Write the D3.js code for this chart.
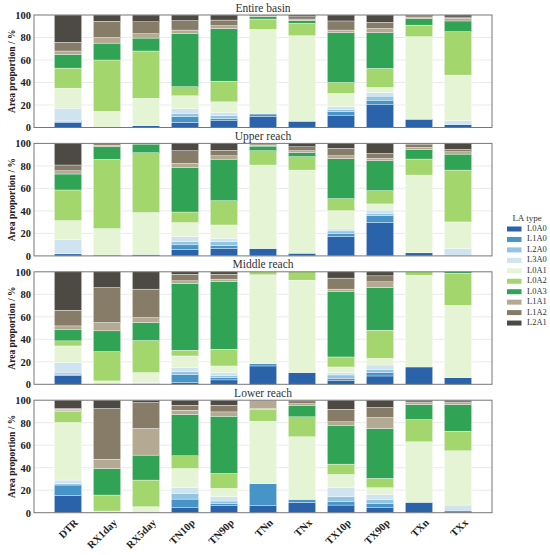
<!DOCTYPE html>
<html><head><meta charset="utf-8">
<script src="https://cdn.jsdelivr.net/npm/d3@7"></script>
<style>body{margin:0;background:#fff}svg{display:block}</style>
</head><body>
<script>
const categories = ["DTR","RX1day","RX5day","TN10p","TN90p","TNn","TNx","TX10p","TX90p","TXn","TXx"];
const laTypes = ["L0A0","L1A0","L2A0","L3A0","L0A1","L0A2","L0A3","L1A1","L1A2","L2A1"];
const panelTitles = ["Entire basin","Upper reach","Middle reach","Lower reach"];
const yTicks = [0,20,40,60,80,100];
const palette = ["#2a63aa","#4694c8","#93c4e1","#cfe3f1","#e5f4d4","#a3d66c","#31a354","#b4a992","#867c68","#4d4a44"];

// rows: LA types (laTypes order), columns: categories
const entireBasin = [
  [4.5, 0.3, 1.5, 4.5, 6, 10, 5.6, 11, 20.2, 7.4, 2.4],
  [1, 0, 0, 5, 1.7, 2, 0, 3, 4.1, 0, 0],
  [1, 0, 0, 3, 2.7, 0, 0, 2.3, 3.6, 0, 0.6],
  [10.7, 0, 0, 4.1, 3, 0, 0, 2.1, 3, 0, 3],
  [17.8, 14.2, 24.5, 11.6, 9.4, 75.2, 76, 11.9, 4.7, 73.3, 40.6],
  [17.8, 45.5, 42, 8, 18.4, 9.2, 11, 9.7, 16.9, 10.3, 38.6],
  [12.2, 15, 11.5, 47.2, 46.8, 2.1, 2.4, 44.3, 31.8, 5.7, 9.5],
  [3, 5, 3.9, 3.2, 2.5, 0.5, 1.4, 2.3, 3.7, 1.5, 2.3],
  [7.7, 14.4, 10.6, 8.4, 5, 0.5, 2.1, 8.1, 5.5, 1.1, 1.2],
  [24.3, 5.6, 6, 5, 4.5, 0.5, 1.5, 5.3, 6.5, 0.7, 1.8]
];
const upperReach = [
  [1.8, 0.8, 1.2, 5.9, 6.8, 6.5, 2.4, 17.2, 29.6, 2.7, 0],
  [0.3, 0, 0, 3.9, 2.4, 0, 0, 2.8, 6.2, 0, 0],
  [0.3, 0, 0, 2.9, 3.5, 0, 0, 2.2, 2.1, 0, 0.5],
  [12.4, 0, 0, 4.5, 3, 0, 0, 1.8, 2.9, 0, 6],
  [16.6, 23.5, 37.3, 12.4, 11.8, 74.3, 73.9, 16.2, 5.4, 69.2, 23.7],
  [27.2, 61.5, 53.2, 9.4, 21.6, 12.7, 11.9, 10.7, 11.8, 14.2, 46.1],
  [14.2, 11.2, 7.7, 39.7, 36.9, 4.1, 3.5, 35.5, 26.6, 8.6, 14.2],
  [2.9, 1.5, 0.2, 3.5, 3, 0.9, 1.8, 2.6, 2.1, 1.7, 2.1],
  [5.1, 1.2, 0.2, 11.3, 4.8, 1, 3.5, 6.6, 4.4, 3, 2.1],
  [19.2, 0.3, 0.2, 6.5, 6.2, 0.5, 3, 4.4, 8.9, 0.6, 5.3]
];
const middleReach = [
  [8, 0, 0.5, 1.5, 3.9, 16.3, 10.4, 3.6, 7.4, 15.4, 5.9],
  [0.9, 0, 0, 7.4, 2, 2.1, 0, 1.7, 3, 0, 0],
  [1.2, 0, 0, 2.4, 2.1, 0, 0, 3, 3, 0, 0],
  [9.2, 0, 1, 3.5, 2.4, 0, 0, 2.1, 3.8, 0, 0],
  [14.8, 3, 8.9, 10.4, 5.9, 78.9, 82.2, 5, 5.9, 81.6, 64.4],
  [4.5, 26.1, 28.5, 5.1, 14.9, 2.7, 7.4, 8.9, 25, 3, 28.5],
  [9.8, 18.4, 16, 59.3, 60.2, 0, 0, 57.9, 37.9, 0, 1.2],
  [3.5, 7.4, 4.4, 2.4, 2.1, 0, 0, 2.4, 5.1, 0, 0],
  [14, 31.1, 25.3, 5.9, 4.4, 0, 0, 9.8, 5.3, 0, 0],
  [34.1, 14, 15.4, 2.1, 2.1, 0, 0, 5.6, 3.6, 0, 0]
];
const lowerReach = [
  [15.1, 0, 0, 4.4, 6.2, 6.2, 9.2, 6.8, 4.4, 9.2, 1.5],
  [9.5, 0, 0, 7.7, 2.1, 19.5, 2.6, 3, 3.9, 0, 0],
  [1.1, 0, 0, 5.1, 2.1, 0, 0, 4.4, 3.5, 0, 0],
  [3.3, 0, 0, 5, 3.8, 0, 0, 8, 4.5, 0, 5.3],
  [51.2, 1.5, 5.3, 17.1, 7.4, 55.7, 55.7, 11.8, 5.9, 53.8, 48.2],
  [10, 14.2, 23.7, 11.3, 13.3, 10.6, 17.7, 9.2, 8.3, 19.8, 17.5],
  [0.3, 23.6, 22.2, 36.7, 50.9, 0.5, 9.8, 34, 44.4, 13.4, 23.7],
  [1.5, 8.3, 23.7, 3.8, 3.8, 7.5, 2, 3.6, 9.7, 1.7, 1.7],
  [0.6, 45, 23, 4.5, 6, 0, 2.4, 11.2, 8.9, 2.1, 2.1],
  [7.4, 7.4, 2.1, 4.4, 4.4, 0, 0.6, 8, 6.5, 0, 0]
];
const panels = [entireBasin, upperReach, middleReach, lowerReach];

const W = 550, H = 555;
const plotL = 34, plotR = 492, panelTop0 = 15, panelStep = 128.4, panelH = 112.5;
const serif = "'Liberation Serif','Times New Roman',serif";

const svg = d3.select("body").append("svg").attr("width", W).attr("height", H)
  .style("font-family", serif);

const x = d3.scaleBand().domain(categories).range([plotL, plotR])
  .paddingInner(0.3).paddingOuter(0.522);
const color = d3.scaleOrdinal().domain(laTypes).range(palette);
const stack = d3.stack().keys(laTypes);

panels.forEach((mat, pi) => {
  const top = panelTop0 + pi * panelStep;
  const y = d3.scaleLinear().domain([0, 100]).range([top + panelH, top]);
  const g = svg.append("g");

  g.selectAll("line.grid").data(yTicks.slice(1, -1)).join("line")
    .attr("x1", plotL).attr("x2", plotR)
    .attr("y1", d => y(d)).attr("y2", d => y(d))
    .attr("stroke", "#ebebeb").attr("stroke-width", 1);

  const rows = categories.map((c, ci) => {
    const o = {cat: c};
    laTypes.forEach((k, ki) => o[k] = mat[ki][ci]);
    return o;
  });
  const series = stack(rows);
  g.selectAll("g.layer").data(series).join("g")
    .attr("fill", d => color(d.key))
    .selectAll("rect").data(d => d).join("rect")
    .attr("x", d => x(d.data.cat))
    .attr("width", x.bandwidth())
    .attr("y", d => y(d[1]))
    .attr("height", d => Math.max(0, y(d[0]) - y(d[1])))
    .attr("stroke", "#ffffff").attr("stroke-width", 0.35);

  g.append("rect").attr("x", plotL).attr("y", y(100))
    .attr("width", plotR - plotL).attr("height", y(0) - y(100))
    .attr("fill", "none").attr("stroke", "#777").attr("stroke-width", 1);

  const axis = d3.axisLeft(y).tickValues(yTicks).tickSize(0).tickPadding(3);
  const ag = g.append("g").attr("transform", `translate(${plotL},0)`).call(axis);
  ag.select(".domain").remove();
  ag.selectAll("text").style("font-family", serif).style("font-size", "10.5px")
    .style("font-weight", "bold").attr("fill", "#222");

  g.append("text")
    .attr("transform", `translate(13,${top + panelH / 2}) rotate(-90)`)
    .attr("text-anchor", "middle").attr("dominant-baseline", "middle")
    .style("font-size", "9.5px").style("font-weight", "bold").attr("fill", "#222")
    .text("Area proportion / %");

  g.append("text").attr("x", (plotL + plotR) / 2).attr("y", top - 3.5)
    .attr("text-anchor", "middle").style("font-size", "11.5px").attr("fill", "#333")
    .text(panelTitles[pi]);

  if (pi === panels.length - 1) {
    const xa = d3.axisBottom(x).tickSize(0).tickPadding(0);
    const xg = g.append("g").attr("transform", `translate(0,${y(0)})`).call(xa);
    xg.select(".domain").remove();
    xg.selectAll("text")
      .attr("text-anchor", "end")
      .attr("transform", "translate(8,8) rotate(-45)")
      .attr("dy", "0.35em").attr("y", 0)
      .style("font-family", serif).style("font-size", "10.5px")
      .style("font-weight", "bold").attr("fill", "#222");
  }
});

const lg = svg.append("g");
lg.append("text").attr("x", 527).attr("y", 221).attr("text-anchor", "middle")
  .style("font-size", "9px").attr("fill", "#333").text("LA type");
const items = lg.selectAll("g.item").data(laTypes).join("g")
  .attr("transform", (d, i) => `translate(0,${229 + i * 10.45})`);
items.append("rect").attr("x", 507).attr("y", -2.5).attr("width", 14.5).attr("height", 5)
  .attr("fill", d => color(d));
items.append("text").attr("x", 527).attr("y", 0).attr("dominant-baseline", "middle")
  .style("font-size", "8.5px").attr("fill", "#333").text(d => d);
</script>
</body></html>
